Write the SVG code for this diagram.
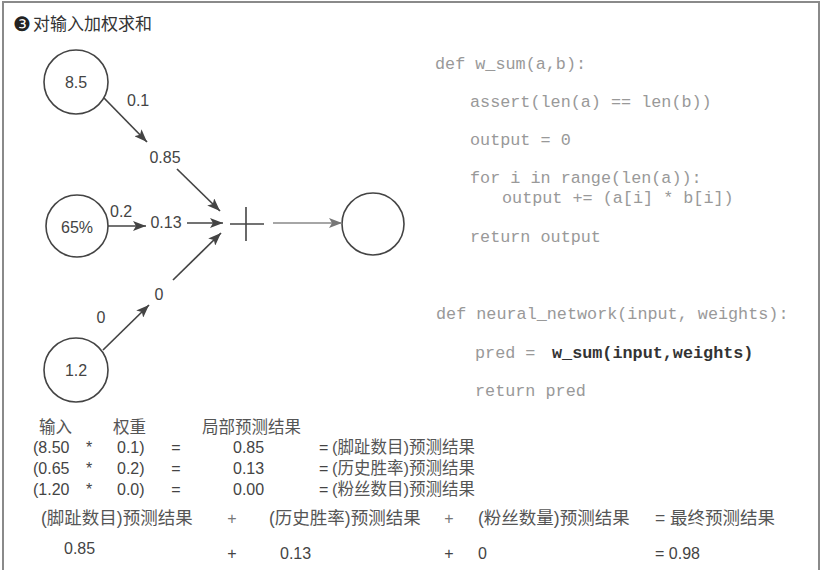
<svg xmlns="http://www.w3.org/2000/svg" width="822" height="570" viewBox="0 0 822 570">
<style>
.frame{fill:#fff;stroke:#8a8a8a;stroke-width:2}
.node{fill:none;stroke:#444;stroke-width:1.6}
.lbl{font-family:"Liberation Sans",Arial,sans-serif;font-size:16px;fill:#444}
.mid{text-anchor:middle}
.cn{font-family:"Liberation Sans","Noto Sans CJK SC",sans-serif;font-size:16.5px;fill:#555}
.cnb{font-family:"Liberation Sans","Noto Sans CJK SC",sans-serif;font-size:17.5px;fill:#555}
.code{font-family:"Liberation Mono","Courier New",monospace;font-size:16.8px;fill:#999}
.codeb{font-family:"Liberation Mono","Courier New",monospace;font-size:16.8px;font-weight:bold;fill:#333}
.edge{stroke:#444;stroke-width:1.7;fill:none}
.edge2{stroke:#888;stroke-width:1.3;fill:none}
.plus{stroke:#444;stroke-width:1.6}
</style>
<defs>
<marker id="ah" markerUnits="userSpaceOnUse" markerWidth="14" markerHeight="10" refX="13" refY="5" orient="auto">
<path d="M0,0 L13,5 L0,10 L3,5 z" fill="#444"/>
</marker>
<marker id="ah2" markerUnits="userSpaceOnUse" markerWidth="14" markerHeight="10" refX="13" refY="5" orient="auto">
<path d="M0,0 L13,5 L0,10 L3,5 z" fill="#777"/>
</marker>
</defs>
<rect class="frame" x="3" y="2" width="816" height="570"/>
<text x="13" y="31" style="font-family:'DejaVu Sans',sans-serif;font-size:20px;fill:#222">❸</text>
<text x="33" y="30" class="cn" style="font-size:17px;fill:#333">对输入加权求和</text>

<g id="in1"><circle class="node" cx="76" cy="82" r="32"/><text class="lbl mid" x="76" y="88">8.5</text></g>
<g id="in2"><circle class="node" cx="77" cy="226" r="31"/><text class="lbl mid" x="77" y="233">65%</text></g>
<g id="in3"><circle class="node" cx="76" cy="370" r="32"/><text class="lbl mid" x="76" y="376">1.2</text></g>
<g id="sum"><line class="plus" x1="230" y1="224" x2="264" y2="224"/><line class="plus" x1="246" y1="207" x2="246" y2="241"/></g>
<g id="out"><circle class="node" cx="373" cy="224" r="31" stroke="#555"/></g>

<g id="connectors">
<line class="edge" x1="104" y1="98" x2="147" y2="142" marker-end="url(#ah)"/>
<line class="edge" x1="177" y1="169" x2="220" y2="211" marker-end="url(#ah)"/>
<line class="edge" x1="108" y1="226" x2="146" y2="226" marker-end="url(#ah)"/>
<line class="edge" x1="187" y1="223" x2="223" y2="223" marker-end="url(#ah)"/>
<line class="edge" x1="103" y1="350" x2="149" y2="305" marker-end="url(#ah)"/>
<line class="edge" x1="173" y1="280" x2="221" y2="233" marker-end="url(#ah)"/>
<line class="edge2" x1="273" y1="223" x2="342" y2="223" marker-end="url(#ah2)"/>
</g>
<g id="weights">
<text class="lbl" x="127" y="106">0.1</text>
<text class="lbl mid" x="165" y="163">0.85</text>
<text class="lbl" x="110" y="217">0.2</text>
<text class="lbl mid" x="166" y="228">0.13</text>
<text class="lbl mid" x="101" y="323">0</text>
<text class="lbl mid" x="159" y="300">0</text>
</g>

<g id="code">
<text class="code" x="435" y="69">def w_sum(a,b):</text>
<text class="code" x="470" y="107" xml:space="preserve">assert(len(a) == len(b))</text>
<text class="code" x="470" y="145">output = 0</text>
<text class="code" x="470" y="183">for i in range(len(a)):</text>
<text class="code" x="502" y="203">output += (a[i] * b[i])</text>
<text class="code" x="470" y="242">return output</text>
<text class="code" x="436" y="319">def neural_network(input, weights):</text>
<text class="code" x="475" y="358">pred =</text>
<text class="codeb" x="552" y="358">w_sum(input,weights)</text>
<text class="code" x="475" y="396">return pred</text>
</g>

<g id="table">
<text class="cn" x="39" y="433">输入</text>
<text class="cn" x="113" y="433">权重</text>
<text class="cn" x="202" y="433">局部预测结果</text>

<text class="lbl" x="33" y="453">(8.50</text>
<text class="lbl mid" x="89" y="453">*</text>
<text class="lbl" x="117" y="453">0.1)</text>
<text class="lbl mid" x="176" y="453">=</text>
<text class="lbl" x="233" y="453">0.85</text>
<text class="lbl" x="319" y="453">=</text>
<text class="cn" x="332" y="453">(脚趾数目)预测结果</text>

<text class="lbl" x="33" y="474">(0.65</text>
<text class="lbl mid" x="89" y="474">*</text>
<text class="lbl" x="117" y="474">0.2)</text>
<text class="lbl mid" x="176" y="474">=</text>
<text class="lbl" x="233" y="474">0.13</text>
<text class="lbl" x="319" y="474">=</text>
<text class="cn" x="332" y="474">(历史胜率)预测结果</text>

<text class="lbl" x="33" y="495">(1.20</text>
<text class="lbl mid" x="89" y="495">*</text>
<text class="lbl" x="117" y="495">0.0)</text>
<text class="lbl mid" x="176" y="495">=</text>
<text class="lbl" x="233" y="495">0.00</text>
<text class="lbl" x="319" y="495">=</text>
<text class="cn" x="332" y="495">(粉丝数目)预测结果</text>
</g>

<g id="total">
<text class="cnb" x="41" y="524">(脚趾数目)预测结果</text>
<text class="lbl mid" x="232" y="524" style="fill:#777">+</text>
<text class="cnb" x="269" y="524">(历史胜率)预测结果</text>
<text class="lbl mid" x="449" y="524" style="fill:#777">+</text>
<text class="cnb" x="478" y="524">(粉丝数量)预测结果</text>
<text class="cnb" x="655" y="524">= 最终预测结果</text>

<text class="lbl" x="64" y="554">0.85</text>
<text class="lbl mid" x="232" y="559">+</text>
<text class="lbl" x="280" y="559">0.13</text>
<text class="lbl mid" x="449" y="559">+</text>
<text class="lbl" x="478" y="559">0</text>
<text class="lbl" x="655" y="559">= 0.98</text>
</g>
</svg>
